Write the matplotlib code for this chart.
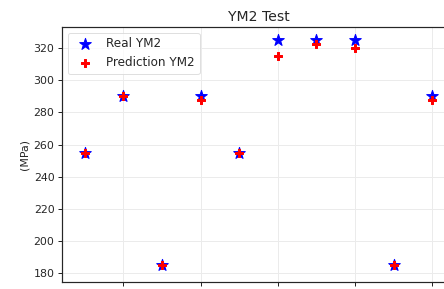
import numpy as np
import matplotlib
matplotlib.use("Agg")
import matplotlib.pyplot as plt

# ==============================
# Data
# ==============================
sample_idx = [1, 2, 3, 4, 5, 6, 7, 8, 9, 10]
real_ym2   = [255, 290, 185, 290, 255, 325, 325, 325, 185, 290]
pred_ym2   = [255, 290, 185, 288, 255, 315, 323, 320, 185, 288]

plt.rcParams["font.family"] = "DejaVu Sans"
plt.rcParams["text.color"] = "#262626"
plt.rcParams["axes.labelcolor"] = "#262626"
plt.rcParams["xtick.color"] = "#262626"
plt.rcParams["ytick.color"] = "#262626"

DPI = 72
fig = plt.figure(figsize=(444 / DPI, 289 / DPI), dpi=DPI)
ax = fig.add_axes([62 / 444, 1 - 281.7 / 289, (455 - 62) / 444, (281.7 - 26.7) / 289])

ax.scatter(sample_idx, real_ym2, marker="*", s=150, color="blue", label="Real YM2", zorder=3)
ax.scatter(sample_idx, pred_ym2, marker="P", s=55, color="red", label="Prediction YM2", zorder=4)

ax.set_xlim(0.41, 10.59)
ax.set_ylim(174.4, 333.5)
# x tick labels fall below the visible area in the reference
ax.set_xticks([2, 4, 6, 8, 10])
ax.set_xticklabels([])
ax.set_yticks([180, 200, 220, 240, 260, 280, 300, 320])
ax.tick_params(labelsize=11, length=4, width=1)
ax.grid(True, color="#ebebeb", linewidth=1)
ax.set_axisbelow(True)
for sp in ax.spines.values():
    sp.set_color("#262626")
    sp.set_linewidth(1.2)

ax.set_title("YM2 Test", fontsize=14)
ax.set_ylabel("(MPa)", fontsize=11)
ax.legend(loc="upper left", fontsize=12, edgecolor="#d8d8d8")

fig.savefig("out.png", dpi=DPI)
